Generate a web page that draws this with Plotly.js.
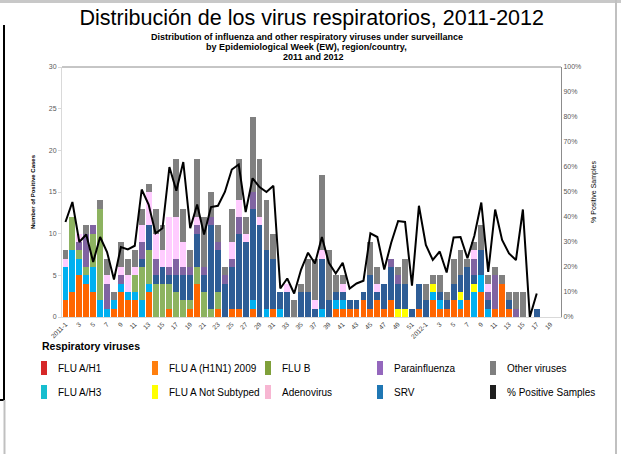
<!DOCTYPE html>
<html><head><meta charset="utf-8">
<script src="https://cdn.plot.ly/plotly-3.0.1.min.js"></script>
<style>html,body{margin:0;padding:0;background:#fff;} #chart{width:621px;height:454px;}</style>
</head><body><div id="chart"></div>
<script>
// ---- categories (epidemiological weeks) ----
const categories = [];
for (let w = 1; w <= 52; w++) categories.push('2011-' + w);
for (let w = 1; w <= 20; w++) categories.push('2012-' + w);
const tickLabels = ['2011-1','3','5','7','9','11','13','15','17','19','21','23','25','27','29','31','33','35','37','39','41','43','45','47','49','51',
                    '2012-1','3','5','7','9','11','13','15','17','19'];
const tickCategories = categories.filter((c, i) => i % 2 === 0);

// ---- series values (number of positive cases) ----
const fluAH1 = [0,0,0,0,0,0,0,0,0,0, 0,0,0,0,0,0,0,0,0,0, 0,0,0,0,0,0,0,0,0,0, 0,0,0,0,0,0,0,0,0,0, 0,0,0,0,0,0,0,0,0,0, 0,0,0,0,0,0,0,0,0,0, 0,0,0,0,0,0,0,0,0,0, 0,0];
const fluAH1N1 = [2,3,5,4,3,0,0,1,3,2, 2,0,3,0,0,1,0,0,1,4, 0,0,1,0,1,1,0,1,0,0, 1,0,0,0,0,0,0,0,0,1, 1,1,1,2,1,2,1,2,0,0, 0,1,0,2,1,1,2,1,2,0, 3,0,1,4,1,0,0,0,0,0, 0,0];
const fluAH3 = [4,5,2,1,3,2,1,1,1,1, 1,2,1,0,0,0,0,0,0,0, 0,0,0,0,0,0,0,1,0,1, 0,1,0,0,0,0,0,1,0,1, 1,0,0,0,0,0,0,0,0,0, 0,0,0,1,1,0,0,1,0,3, 2,1,0,0,0,0,0,0,0,0, 0,0];
const fluANotSubtyped = [0,0,0,0,0,0,0,0,0,0, 0,0,0,0,0,0,0,0,0,0, 0,0,0,0,0,0,0,0,0,0, 0,0,0,0,0,0,0,0,0,0, 0,0,0,0,0,0,0,0,1,1, 0,0,0,1,0,0,0,1,0,1, 0,0,0,0,0,0,0,0,0,0, 0,0];
const fluB = [0,4,1,1,4,11,0,0,0,0, 2,4,4,4,4,3,3,2,1,2, 3,1,2,0,0,0,0,0,0,0, 0,0,0,0,0,0,0,0,0,0, 0,0,0,0,0,0,0,0,0,0, 0,0,0,0,0,0,0,0,0,0, 0,0,0,0,0,0,0,0,0,0, 0,0];
const srv = [0,0,0,0,0,0,0,0,0,0, 0,1,3,1,2,1,2,3,3,4, 2,10,5,4,5,9,9,11,11,7, 6,2,3,0,3,3,1,6,2,1, 1,1,1,1,4,1,3,4,3,3, 1,3,2,0,1,1,2,2,4,1, 3,1,0,0,1,0,0,0,1,0, 0,0];
const parainfluenza = [0,0,1,4,1,0,3,0,1,0, 0,2,0,2,0,1,2,1,1,1, 1,1,1,1,1,2,0,2,0,0, 0,0,0,0,0,0,0,0,0,0, 0,0,0,0,0,0,0,1,1,0, 0,0,0,0,0,0,0,0,0,2, 0,1,4,0,0,1,0,0,0,0, 0,0];
const adenovirus = [1,0,1,0,0,0,1,0,1,2, 1,2,4,3,2,6,5,3,0,1, 0,0,0,0,2,2,1,0,1,0, 0,0,1,0,0,0,1,1,0,0, 1,0,0,0,0,1,0,0,0,0, 0,0,0,0,0,0,0,0,0,1, 0,1,0,0,0,0,0,0,0,0, 0,0];
const otherViruses = [1,0,0,1,0,1,2,1,3,2, 2,2,1,3,3,0,7,4,2,7, 6,3,2,1,4,5,2,9,7,6, 3,0,0,2,1,4,5,9,6,2, 1,0,0,0,4,2,0,0,1,3, 0,0,2,1,2,1,3,3,1,1, 3,1,1,1,1,2,3,0,0,0, 0,0];
// ---- % positive samples ----
const pctPositive = [38,46,30,33,22,32,26,15,28,27, 28.5,51,45,33.5,35.5,60,50.5,62,35.5,45, 33,44,44.5,50,59,61,42,55.5,52,50,
  52.5,11.4,15.4,9.4,19,25.7,21.4,32,21.7,17.4, 21.7,11.4,13.4,14.5,33.5,32,19,29.7,38.4,38,
  12.5,44.5,28.8,22.8,26.2,17.8,31.8,32,23.5,32.5, 45.8,18,43,30.8,25.4,22.8,43,0,9.4,null, null,null];

// ---- series names / colours ----
const barSeries = [
  {name:'FLU A/H1', y:fluAH1, color:'#FF0000'},
  {name:'FLU A (H1N1) 2009', y:fluAH1N1, color:'#FF6600'},
  {name:'FLU A/H3', y:fluAH3, color:'#00B0F0'},
  {name:'FLU A Not Subtyped', y:fluANotSubtyped, color:'#FFFF00'},
  {name:'FLU B', y:fluB, color:'#8DB360'},
  {name:'SRV', y:srv, color:'#2E5D96'},
  {name:'Parainfluenza', y:parainfluenza, color:'#8064A2'},
  {name:'Adenovirus', y:adenovirus, color:'#FFCCFF'},
  {name:'Other viruses', y:otherViruses, color:'#808080'}
];
const legendNames = [['FLU A/H1','FLU A/H3'],['FLU A (H1N1) 2009','FLU A Not Subtyped'],['FLU B','Adenovirus'],['Parainfluenza','SRV'],['Other viruses','% Positive Samples']];
const legendColors = [['#D62728','#17BECF'],['#FF7F0E','#FFFF00'],['#7FA03A','#F7B6D2'],['#9467BD','#1F77B4'],['#7F7F7F','#1E1E1E']];

const traces = barSeries.map(s => ({
  type:'bar', x:categories, y:s.y, name:s.name, marker:{color:s.color}, showlegend:false, hoverinfo:'x+y+name'
}));
traces.push({type:'scatter', mode:'lines', x:categories, y:pctPositive, yaxis:'y2', name:'% Positive Samples',
  line:{color:'#000000', width:2}, showlegend:false, connectgaps:false});

// pixel -> paper helpers (plot area 62..561 x 67..317)
const L = 62, R = 561, T = 67, B = 317;
const px = x => (x - L) / (R - L);
const py = y => (B - y) / (B - T);

const shapes = [
  {type:'line', xref:'paper', yref:'paper', x0:0, x1:1, y0:1, y1:1, line:{color:'#8c8c8c', width:1}},
  // slide frame decorations
  {type:'line', xref:'paper', yref:'paper', x0:px(0), x1:px(621), y0:py(1.5), y1:py(1.5), line:{color:'#c8c8c8', width:3}},
  {type:'line', xref:'paper', yref:'paper', x0:px(4), x1:px(4), y0:py(25), y1:py(400), line:{color:'#000000', width:2}},
  {type:'line', xref:'paper', yref:'paper', x0:px(0), x1:px(4), y0:py(400), y1:py(400), line:{color:'#000000', width:2}},
  {type:'line', xref:'paper', yref:'paper', x0:px(4.5), x1:px(4.5), y0:py(400), y1:py(454), line:{color:'#c0c0c0', width:2}},
  {type:'line', xref:'paper', yref:'paper', x0:px(616), x1:px(616), y0:py(0), y1:py(454), line:{color:'#c0c0c0', width:2}}
];
const subFont = {size:9, family:'Liberation Sans Narrow, Liberation Sans, Arial', color:'#000'};
const annotations = [
  {xref:'paper', yref:'paper', x:px(307), y:py(37), xanchor:'center', yanchor:'middle', text:'<b>Distribution of influenza and other respiratory viruses under surveillance</b>', showarrow:false, font:subFont},
  {xref:'paper', yref:'paper', x:px(306), y:py(47), xanchor:'center', yanchor:'middle', text:'<b>by Epidemiological Week (EW), region/country,</b>', showarrow:false, font:subFont},
  {xref:'paper', yref:'paper', x:px(313), y:py(57), xanchor:'center', yanchor:'middle', text:'<b>2011 and 2012</b>', showarrow:false, font:subFont},
  {xref:'paper', yref:'paper', x:px(40), y:py(346), xanchor:'left', yanchor:'middle', text:'<b>Respiratory viruses</b>', showarrow:false, font:{size:10.5, family:'Liberation Sans Narrow, Liberation Sans, Arial', color:'#000'}}
];
const colSwatchX = [41, 152, 265, 377, 490];
const rowY = [368, 392];
for (let c = 0; c < 5; c++) {
  for (let r = 0; r < 2; r++) {
    shapes.push({type:'rect', xref:'paper', yref:'paper', x0:px(colSwatchX[c]), x1:px(colSwatchX[c] + 6), y0:py(rowY[r] - 7), y1:py(rowY[r] + 7),
      fillcolor:legendColors[c][r], line:{width:0}});
    annotations.push({xref:'paper', yref:'paper', x:px(colSwatchX[c] + 15), y:py(rowY[r]), xanchor:'left', yanchor:'middle', text:legendNames[c][r], showarrow:false,
      font:{size:10, family:'Liberation Sans Narrow, Liberation Sans, Arial', color:'#000'}});
  }
}

const layout = {
  width:621, height:454,
  margin:{l:62, r:60, t:67, b:137, pad:0},
  paper_bgcolor:'#ffffff', plot_bgcolor:'#ffffff',
  barmode:'stack', bargap:0.15,
  showlegend:false,
  title:{text:'Distribución de los virus respiratorios, 2011-2012', font:{size:21.5, family:'Liberation Sans, Arial', color:'#000'},
    xref:'container', x:0.502, xanchor:'center', yref:'container', y:1 - 17/454, yanchor:'middle'},
  xaxis:{type:'category', categoryorder:'array', categoryarray:categories, tickmode:'array', tickvals:tickCategories, ticktext:tickLabels,
    tickangle:-45, tickfont:{size:6.5, family:'Liberation Sans, Arial', color:'#404040'}, showline:true, linecolor:'#d9d9d9', linewidth:1,
    showgrid:false, zeroline:false, ticks:'', fixedrange:true},
  yaxis:{range:[0,30], dtick:5, tickfont:{size:7, family:'Liberation Sans, Arial', color:'#595959'}, showline:true, linecolor:'#d9d9d9', linewidth:1,
    ticks:'outside', ticklen:3, tickcolor:'#d9d9d9', showgrid:false, zeroline:false,
    title:{text:'<b>Number of Positive Cases</b>', font:{size:6, family:'Liberation Sans Narrow, Liberation Sans, Arial', color:'#000'}, standoff:12}},
  yaxis2:{overlaying:'y', side:'right', range:[0,100], dtick:10, ticksuffix:'%', tickfont:{size:7, family:'Liberation Sans, Arial', color:'#595959'},
    showline:true, linecolor:'#8c8c8c', linewidth:1, ticks:'', showgrid:false, zeroline:false,
    title:{text:'% Positive Samples', font:{size:7, family:'Liberation Sans Narrow, Liberation Sans, Arial', color:'#000'}, standoff:10}},
  shapes:shapes, annotations:annotations
};
Plotly.newPlot('chart', traces, layout, {displayModeBar:false, staticPlot:true});
</script></body></html>
